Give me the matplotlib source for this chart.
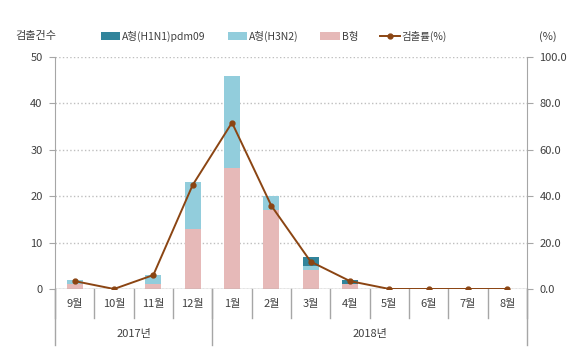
import numpy as np
import matplotlib.pyplot as plt
import matplotlib.transforms as mtransforms

plt.rcParams['font.family'] = ['Noto Sans CJK KR', 'DejaVu Sans']

# data
months = ['9월', '10월', '11월', '12월', '1월', '2월', '3월', '4월', '5월', '6월', '7월', '8월']
years = ['2017년', '2018년']
year_span = [4, 8]           # number of months in each year group
h1n1 = [0, 0, 0, 0, 0, 0, 2, 1, 0, 0, 0, 0]
h3n2 = [1, 0, 2, 10, 20, 3, 1, 0, 0, 0, 0, 0]
flu_b = [1, 0, 1, 13, 26, 17, 4, 1, 0, 0, 0, 0]
rate = [3.4, 0.0, 6.0, 44.8, 71.7, 35.9, 11.8, 3.4, 0.0, 0.0, 0.0, 0.0]

c_h1n1 = '#31849B'
c_h3n2 = '#92CDDC'
c_b = '#E6B9B8'
c_line = '#8B4513'
c_axis = '#A6A6A6'
c_text = '#404040'

fig = plt.figure(figsize=(5.8, 3.63), dpi=100)
ax = fig.add_axes([0.0948, 0.2039, 0.8138, 0.6391])
ax2 = ax.twinx()

x = np.arange(len(months))
b = np.array(flu_b)
h3 = np.array(h3n2)
h1 = np.array(h1n1)
w = 0.4
ax.bar(x, b, w, color=c_b, label='B형', zorder=2)
ax.bar(x, h3, w, bottom=b, color=c_h3n2, label='A형(H3N2)', zorder=2)
ax.bar(x, h1, w, bottom=b + h3, color=c_h1n1, label='A형(H1N1)pdm09', zorder=2)

ax2.plot(x, rate, color=c_line, lw=1.4, marker='o', ms=3.5, label='검출률(%)', zorder=3)

ax.set_xlim(-0.5, len(months) - 0.5)
ax.set_ylim(0, 50)
ax.set_yticks(range(0, 51, 10))
ax2.set_ylim(0, 100)
ax2.set_yticks(range(0, 101, 20))
ax2.set_yticklabels(['%.1f' % v for v in range(0, 101, 20)])

for a in (ax, ax2):
    for s in a.spines.values():
        s.set_visible(False)
    a.tick_params(axis='y', length=4, color=c_axis, labelsize=8, labelcolor=c_text, pad=5)
ax.spines['left'].set_visible(True)
ax.spines['left'].set_color(c_axis)
ax2.spines['right'].set_visible(True)
ax2.spines['right'].set_color(c_axis)
ax.tick_params(axis='x', length=0, labelbottom=False)

ax.yaxis.grid(True, linestyle=':', color='#BFBFBF', lw=1)
ax.set_axisbelow(True)
ax.axhline(0, color=c_axis, lw=1, zorder=4)

# category axis below the plot
trans = mtransforms.blended_transform_factory(ax.transData, ax.transAxes)
for i, m in enumerate(months):
    ax.text(i, -0.064, m, transform=trans, ha='center', va='center', fontsize=8, color=c_text)
for i in range(len(months) + 1):
    ax.plot([i - 0.5, i - 0.5], [0, -0.125], transform=trans, color=c_axis, lw=1, clip_on=False)
start = 0
edges = [0]
for yr, n in zip(years, year_span):
    ax.text(start + n / 2 - 0.5, -0.195, yr, transform=trans, ha='center', va='center',
            fontsize=8, color=c_text)
    start += n
    edges.append(start)
for e in edges:
    ax.plot([e - 0.5, e - 0.5], [0, -0.24], transform=trans, color=c_axis, lw=1, clip_on=False)

fig.text(0.062, 0.90, '검출건수', ha='center', va='center', fontsize=8, color=c_text)
fig.text(0.945, 0.90, '(%)', ha='center', va='center', fontsize=8, color=c_text)

handles, labels = ax.get_legend_handles_labels()
h2, l2 = ax2.get_legend_handles_labels()
order = [2, 1, 0]
fig.legend([handles[i] for i in order] + h2, [labels[i] for i in order] + l2,
           loc='center', bbox_to_anchor=(0.472, 0.9), ncol=4, frameon=False, fontsize=7.5,
           handlelength=1.9, handleheight=0.75, handletextpad=0.15, columnspacing=2.1,
           labelcolor=c_text)

fig.savefig('out.png', dpi=100)
